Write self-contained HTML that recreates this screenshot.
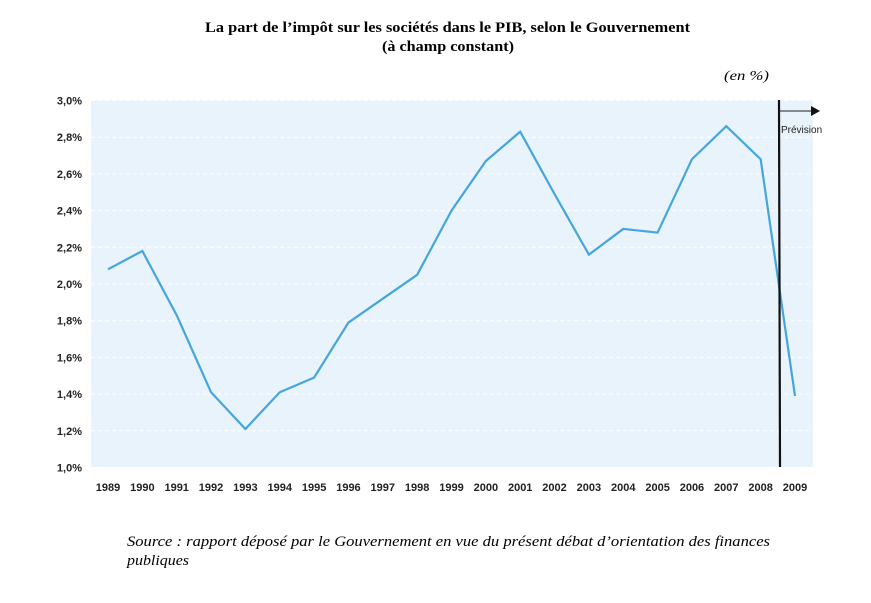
<!DOCTYPE html>
<html><head><meta charset="utf-8"><style>
body{margin:0;background:#fff;width:871px;height:598px;overflow:hidden}
</style></head><body>
<svg width="871" height="598" xmlns="http://www.w3.org/2000/svg">
<text x="205" y="32" textLength="485" lengthAdjust="spacingAndGlyphs" font-family="Liberation Serif, serif" font-weight="bold" font-size="15">La part de l’impôt sur les sociétés dans le PIB, selon le Gouvernement</text>
<text x="382" y="51" textLength="132" lengthAdjust="spacingAndGlyphs" font-family="Liberation Serif, serif" font-weight="bold" font-size="15">(à champ constant)</text>
<text x="724" y="80" textLength="45" lengthAdjust="spacingAndGlyphs" font-family="Liberation Serif, serif" font-style="italic" font-size="14">(en %)</text>
<rect x="91" y="100" width="722" height="367" fill="#e8f3fc"/>
<g id="grid"></g><g id="yt"></g><g id="xt"></g>
<polyline id="line" fill="none" stroke="#45a5dc" stroke-width="2.2" stroke-linejoin="miter"/>
<line x1="779" y1="100" x2="780" y2="467" stroke="#111" stroke-width="2.2"/>
<line x1="779" y1="111" x2="812" y2="111" stroke="#222" stroke-width="1"/>
<polygon points="811,106 820,111 811,116" fill="#111"/>
<text x="781" y="133" font-family="Liberation Sans, sans-serif" font-size="10" fill="#222">Prévision</text>
<text x="127" y="546" textLength="643" lengthAdjust="spacingAndGlyphs" font-family="Liberation Serif, serif" font-style="italic" font-size="15">Source : rapport déposé par le Gouvernement en vue du présent débat d’orientation des finances</text>
<text x="127" y="565" textLength="62" lengthAdjust="spacingAndGlyphs" font-family="Liberation Serif, serif" font-style="italic" font-size="15">publiques</text>
</svg>
<script>
const years=["1989","1990","1991","1992","1993","1994","1995","1996","1997","1998","1999","2000","2001","2002","2003","2004","2005","2006","2007","2008","2009"];
const values=[2.08,2.18,1.83,1.41,1.21,1.41,1.49,1.79,1.92,2.05,2.40,2.67,2.83,2.49,2.16,2.30,2.28,2.68,2.86,2.68,1.39];
const yTicks=[1.0,1.2,1.4,1.6,1.8,2.0,2.2,2.4,2.6,2.8,3.0];
const yTickLabels=["1,0%","1,2%","1,4%","1,6%","1,8%","2,0%","2,2%","2,4%","2,6%","2,8%","3,0%"];
const NS="http://www.w3.org/2000/svg";
const x=i=>108+i*34.35;
const y=v=>467.5-(v-1)*183.5;
const g=document.getElementById('grid'),yt=document.getElementById('yt'),xt=document.getElementById('xt');
yTicks.forEach((t,i)=>{
  if(i>0){const l=document.createElementNS(NS,'line');
  l.setAttribute('x1',91);l.setAttribute('x2',813);l.setAttribute('y1',y(t));l.setAttribute('y2',y(t));
  l.setAttribute('stroke','#fff');l.setAttribute('stroke-dasharray','4,3');l.setAttribute('stroke-width','1');
  
  
  g.appendChild(l);}
  const tx=document.createElementNS(NS,'text');
  tx.setAttribute('x',82);tx.setAttribute('y',y(t)+4);tx.setAttribute('text-anchor','end');
  tx.setAttribute('font-family','Liberation Sans, sans-serif');tx.setAttribute('font-size','11');tx.setAttribute('font-weight','bold');tx.setAttribute('fill','#222');
  tx.textContent=yTickLabels[i];
  
  
  yt.appendChild(tx);
});
years.forEach((yr,i)=>{
  const tx=document.createElementNS(NS,'text');
  tx.setAttribute('x',x(i));tx.setAttribute('y',491);tx.setAttribute('text-anchor','middle');
  tx.setAttribute('font-family','Liberation Sans, sans-serif');tx.setAttribute('font-size','11');tx.setAttribute('font-weight','bold');tx.setAttribute('fill','#222');
  tx.textContent=yr;
  
  
  xt.appendChild(tx);
});
document.getElementById('line').setAttribute('points',values.map((v,i)=>x(i)+','+y(v)).join(' '));
</script>
</body></html>
